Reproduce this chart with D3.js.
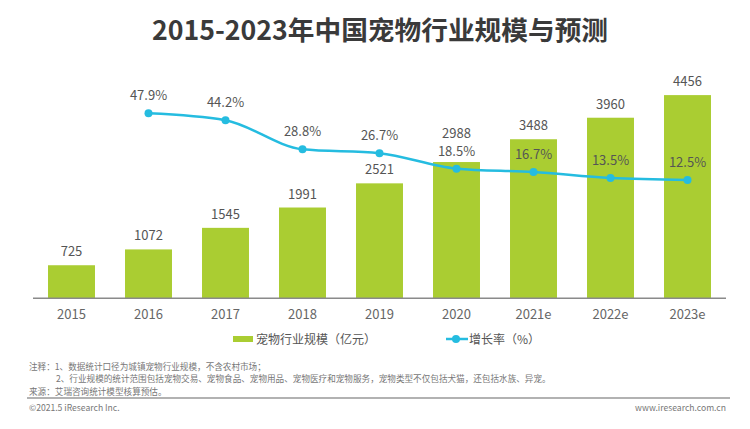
<!DOCTYPE html>
<html><head><meta charset="utf-8">
<script src="https://cdn.jsdelivr.net/npm/d3@7"></script>
<style>body{margin:0;background:#fff}svg{display:block}</style>
</head><body><svg id="c" width="750" height="429"></svg>
<script>
const categories = ["2015","2016","2017","2018","2019","2020","2021e","2022e","2023e"];
const scaleValues = [725,1072,1545,1991,2521,2988,3488,3960,4456];
const growthYears = ["2016","2017","2018","2019","2020","2021e","2022e","2023e"];
const growthValues = [47.9,44.2,28.8,26.7,18.5,16.7,13.5,12.5];
const title = "2015-2023年中国宠物行业规模与预测";
const legendLabels = ["宠物行业规模（亿元）","增长率（%）"];
const notes = ["注释：1、数据统计口径为城镇宠物行业规模，不含农村市场；",
  "2、行业规模的统计范围包括宠物交易、宠物食品、宠物用品、宠物医疗和宠物服务，宠物类型不仅包括犬猫，还包括水族、异宠。",
  "来源：艾瑞咨询统计模型核算预估。"];

const svg = d3.select("#c");
const font = "'Noto Sans CJK SC','Noto Sans',sans-serif";
const green = "#AACD32", cyan = "#25BCE0";

svg.append("text").attr("x",380).attr("y",39.5).attr("text-anchor","middle")
  .attr("font-family",font).attr("font-weight","bold").attr("font-size",26.7)
  .attr("fill","#3a3a3a").text(title);

const x = d3.scaleBand().domain(categories).range([33,726]).paddingInner(0.39).paddingOuter(0.195);
const y = d3.scaleLinear().domain([0,5000]).range([298.3,298.3-5000*0.0456]);
const y2 = d3.scaleLinear().domain([0,50]).range([203.5,203.5-50*1.884]);
const cx = d => x(d)+x.bandwidth()/2;
const growthMap = new Map(growthYears.map((d,i)=>[d,growthValues[i]]));

svg.append("g").selectAll("rect").data(categories).join("rect")
  .attr("x",d=>x(d)).attr("width",x.bandwidth())
  .attr("y",(d,i)=>y(scaleValues[i])).attr("height",(d,i)=>y(0)-y(scaleValues[i]))
  .attr("fill",green);

// bar value labels, lifted above the growth label when they would collide
function barLabelY(d,i){
  let by = y(scaleValues[i])-9;
  if (growthMap.has(d)) {
    const py = y2(growthMap.get(d))-13;
    if (Math.abs(by-py) < 14) by = Math.min(by, py-18);
  }
  return by;
}
svg.append("g").selectAll("text").data(categories).join("text")
  .attr("x",d=>cx(d)).attr("y",barLabelY)
  .attr("text-anchor","middle").attr("font-family",font).attr("font-size",13)
  .attr("fill","#555").text((d,i)=>scaleValues[i]);

const axis = svg.append("g").attr("transform","translate(0,298.3)")
  .call(d3.axisBottom(x).tickSize(0).tickPadding(11));
axis.select(".domain").attr("stroke","#8a8a8a").attr("stroke-width",1.5).attr("d","M33,0H726");
axis.selectAll("text").attr("font-family",font).attr("font-size",13).attr("fill","#666");

const line = d3.line().x(d=>cx(d[0])).y(d=>y2(d[1])).curve(d3.curveMonotoneX);
const pts = growthYears.map((d,i)=>[d,growthValues[i]]);
svg.append("path").datum(pts).attr("d",line).attr("fill","none").attr("stroke",cyan).attr("stroke-width",2.5);
svg.append("g").selectAll("circle").data(pts).join("circle")
  .attr("cx",d=>cx(d[0])).attr("cy",d=>y2(d[1])).attr("r",4).attr("fill",cyan);
svg.append("g").selectAll("text").data(pts).join("text")
  .attr("x",d=>cx(d[0])).attr("y",d=>y2(d[1])-13)
  .attr("text-anchor","middle").attr("font-family",font).attr("font-size",13)
  .attr("fill","#555").text(d=>d[1].toFixed(1)+"%");

// legend
const lg = svg.append("g").attr("font-family",font).attr("font-size",12).attr("fill","#555");
lg.append("rect").attr("x",233).attr("y",336).attr("width",20).attr("height",6).attr("fill",green);
lg.append("text").attr("x",256).attr("y",343.5).text(legendLabels[0]);
lg.append("line").attr("x1",446).attr("x2",468).attr("y1",339).attr("y2",339).attr("stroke",cyan).attr("stroke-width",2.5);
lg.append("circle").attr("cx",456).attr("cy",339).attr("r",4).attr("fill",cyan);
lg.append("text").attr("x",469).attr("y",343.5).text(legendLabels[1]);

// notes
const nt = svg.append("g").attr("font-family",font).attr("font-size",8.6).attr("fill","#777");
nt.append("text").attr("x",29).attr("y",369.5).text(notes[0]);
nt.append("text").attr("x",56).attr("y",382).text(notes[1]);
nt.append("text").attr("x",29).attr("y",394.5).text(notes[2]);
svg.append("line").attr("x1",27).attr("x2",730).attr("y1",398).attr("y2",398).attr("stroke","#999").attr("stroke-width",1.5);
nt.append("text").attr("x",29).attr("y",411).text("©2021.5 iResearch Inc.");
nt.append("text").attr("x",726).attr("y",411).attr("text-anchor","end").text("www.iresearch.com.cn");
</script></body></html>
